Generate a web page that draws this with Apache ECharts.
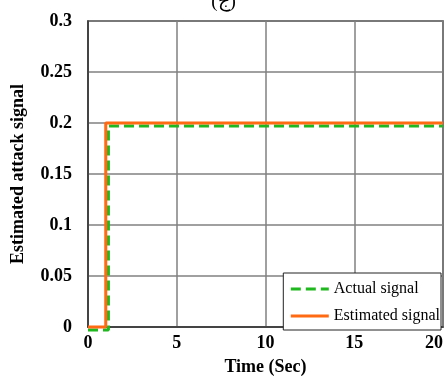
<!DOCTYPE html>
<html>
<head>
<meta charset="utf-8">
<script src="https://cdn.jsdelivr.net/npm/echarts@6/dist/echarts.min.js"></script>
<style>html,body{margin:0;padding:0;background:#fff;}#c{width:447px;height:381px;}</style>
</head>
<body>
<div id="c"></div>
<script>
const actualX = [0, 1.15, 1.15, 20];
const actualY = [-0.003, -0.003, 0.197, 0.197];
const estX = [0, 1, 1, 20];
const estY = [0, 0, 0.2, 0.2];
const xTicks = [0, 5, 10, 15, 20];
const yTicks = [0, 0.05, 0.1, 0.15, 0.2, 0.25, 0.3];

const serif = '"Liberation Serif", "Times New Roman", serif';
const chart = echarts.init(document.getElementById('c'));
chart.setOption({
  animation: false,
  title: {
    text: '(ج)', left: 'center', top: -12,
    textStyle: { fontFamily: serif, fontSize: 19, fontWeight: 'normal', color: '#000' }
  },
  grid: { left: 88, right: 4, top: 21, bottom: 51, show: true, borderColor: '#333', borderWidth: 1.5 },
  xAxis: {
    type: 'value', min: 0, max: 20, interval: 5,
    name: 'Time (Sec)', nameLocation: 'middle', nameGap: 31,
    nameTextStyle: { fontFamily: serif, fontSize: 18, fontWeight: 'bold', color: '#000' },
    axisLine: { show: true, lineStyle: { color: '#333', width: 1.5 } },
    axisTick: { show: false },
    axisLabel: { fontFamily: serif, fontSize: 18, fontWeight: 'bold', color: '#000', margin: 7,
      alignMaxLabel: 'right',
      formatter: v => xTicks.includes(v) ? String(v) : '' },
    splitLine: { show: true, lineStyle: { color: '#808080', width: 1.5 } }
  },
  yAxis: {
    type: 'value', min: 0, max: 0.3, interval: 0.05,
    name: 'Estimated attack signal', nameLocation: 'middle', nameGap: 61,
    nameTextStyle: { fontFamily: serif, fontSize: 18, fontWeight: 'bold', color: '#000' },
    axisLine: { show: true, lineStyle: { color: '#333', width: 1.5 } },
    axisTick: { show: false },
    axisLabel: { fontFamily: serif, fontSize: 18, fontWeight: 'bold', color: '#000', margin: 16,
      formatter: v => { const t = yTicks.find(k => Math.abs(k - v) < 1e-9); return t === undefined ? '' : String(t); } },
    splitLine: { show: true, lineStyle: { color: '#808080', width: 1.5 } }
  },
  legend: {
    orient: 'vertical', right: 6, bottom: 51,
    backgroundColor: '#fff', borderColor: '#222', borderWidth: 1,
    padding: [8, 1, 6, 6], itemGap: 11, itemWidth: 38, itemHeight: 16,
    itemStyle: { opacity: 0 },
    lineStyle: { width: 3 },
    textStyle: { fontFamily: serif, fontSize: 16, color: '#000' },
    data: ['Actual signal', 'Estimated signal']
  },
  series: [
    {
      name: 'Actual signal', type: 'line', symbol: 'none', clip: false,
      data: actualX.map((x, i) => [x, actualY[i]]),
      lineStyle: { color: '#1fb81f', width: 3, type: [10, 5] },
      itemStyle: { color: '#1fb81f' }, z: 3
    },
    {
      name: 'Estimated signal', type: 'line', symbol: 'none', clip: false,
      data: estX.map((x, i) => [x, estY[i]]),
      lineStyle: { color: '#ff6a13', width: 3 },
      itemStyle: { color: '#ff6a13' }, z: 4
    }
  ]
});
</script>
</body>
</html>
